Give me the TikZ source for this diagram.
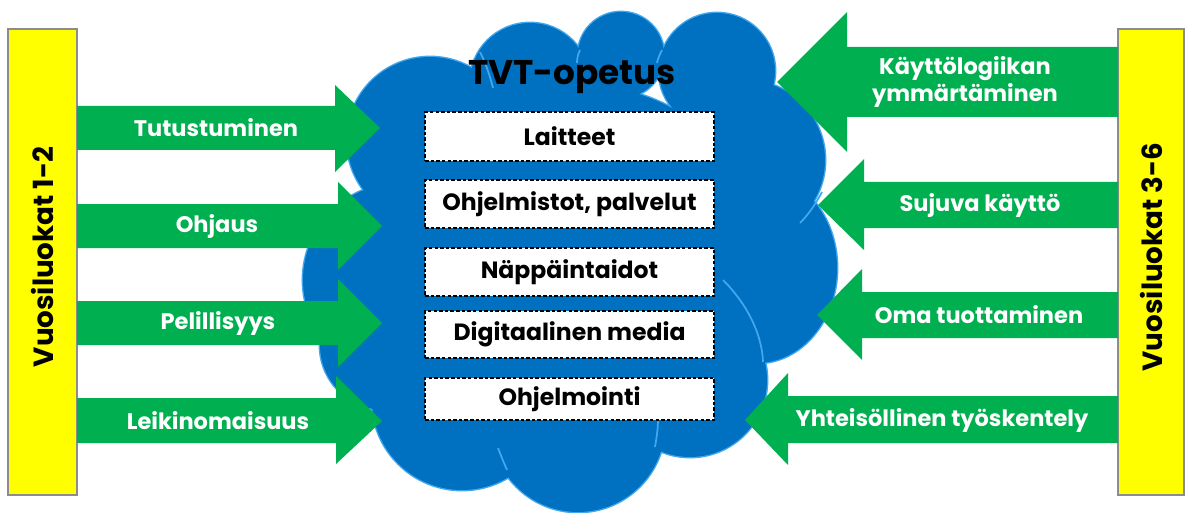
\documentclass[tikz,border=0pt]{standalone}
\usepackage{fontspec}
\setmainfont{Poppins}
\definecolor{arrowgreen}{HTML}{00B050}
\definecolor{baryellow}{HTML}{FFFF00}
\definecolor{bargray}{HTML}{8C8C8C}
\definecolor{cloudblue}{HTML}{0070C0}
\definecolor{cloudline}{HTML}{41A8F0}
\tikzset{
  arrowtext/.style={text=white, align=center, inner sep=0pt,
    font=\bfseries\fontsize{12.8}{15.5}\selectfont},
  topicbox/.style={draw, fill=white, line width=0.8pt,
    dash pattern=on 2pt off 1.2pt, minimum width=5.78cm, inner sep=0pt,
    font=\bfseries\fontsize{13.4}{16}\selectfont},
  yearbar/.style={draw=bargray, fill=baryellow, line width=1pt},
  yeartext/.style={rotate=90, inner sep=0pt,
    font=\bfseries\fontsize{15.8}{18}\selectfont},
  innerarc/.style={cloudline, line width=1pt}
}
\begin{document}
\begin{tikzpicture}[x=0.02cm, y=-0.02cm]
    \useasboundingbox (0,0) rectangle (1185,513);

    % Cloud
    \foreach \cx/\cy/\rx/\ry in {430/140/83/83, 530/83/60/60, 621/55/43/43,
        717/71/58/58, 745/160/80/80, 757/268/80/95, 690/380/77/77,
        578/425/87/87, 462/400/90/90, 400/280/97/97, 385/345/65/65,
        580/270/190/185}
      \draw [cloudline, line width=1.6pt] (\cx,\cy) ellipse [x radius=\rx, y radius=\ry];
    \foreach \cx/\cy/\rx/\ry in {430/140/83/83, 530/83/60/60, 621/55/43/43,
        717/71/58/58, 745/160/80/80, 757/268/80/95, 690/380/77/77,
        578/425/87/87, 462/400/90/90, 400/280/97/97, 385/345/65/65,
        580/270/190/185}
      \fill [cloudblue] (\cx,\cy) ellipse [x radius=\rx, y radius=\ry];

    % Inner cloud lines
    \draw [innerarc] (480,52) .. controls (486,64) and (490,76) .. (493,88);
    \draw [innerarc] (580,50) .. controls (578,54) and (577,58) .. (577,63);
    \draw [innerarc] (662,50) .. controls (660,54) and (658,58) .. (657,63);
    \draw [innerarc] (822,192) .. controls (815,205) and (808,215) .. (800,223);
    \draw [innerarc] (723,280) .. controls (748,305) and (762,335) .. (763,362);
    \draw [innerarc] (655,447) .. controls (657,435) and (658,428) .. (658,420);
    \draw [innerarc] (498,448) .. controls (501,456) and (504,463) .. (507,470);

    % Year bars
    \draw [yearbar] (8,29) rectangle (77,495);
    \draw [yearbar] (1118,29) rectangle (1184,495);
    \node [yeartext] (vl12) at (42,257) {Vuosiluokat 1-2};
    \node [yeartext] (vl36) at (1151,257) {Vuosiluokat 3-6};

    % Left arrows
    \fill [arrowgreen] (77,106) -- (335,106) -- (335,85) -- (380,128)
        -- (335,172) -- (335,150) -- (77,150) -- cycle;
    \fill [arrowgreen] (77,204) -- (338,204) -- (338,182) -- (382,226)
        -- (338,270) -- (338,248) -- (77,248) -- cycle;
    \fill [arrowgreen] (77,301) -- (338,301) -- (338,279) -- (382,323)
        -- (338,367) -- (338,345) -- (77,345) -- cycle;
    \fill [arrowgreen] (77,398) -- (336,398) -- (336,376) -- (382,421)
        -- (336,464) -- (336,443) -- (77,443) -- cycle;

    % Right arrows
    \fill [arrowgreen] (1118,47) -- (847,47) -- (847,12) -- (777,82)
        -- (847,152) -- (847,117) -- (1118,117) -- cycle;
    \fill [arrowgreen] (1118,182) -- (864,182) -- (864,159) -- (818,205)
        -- (864,250) -- (864,228) -- (1118,228) -- cycle;
    \fill [arrowgreen] (1118,292) -- (862,292) -- (862,269) -- (817,315)
        -- (862,360) -- (862,338) -- (1118,338) -- cycle;
    \fill [arrowgreen] (1118,396) -- (788,396) -- (788,373) -- (745,420)
        -- (788,465) -- (788,443) -- (1118,443) -- cycle;

    % Arrow labels
    \node [arrowtext] (tutustuminen) at (216,128) {Tutustuminen};
    \node [arrowtext] (ohjaus) at (217,226) {Ohjaus};
    \node [arrowtext] (pelillisyys) at (218,323) {Pelillisyys};
    \node [arrowtext] (leikinomaisuus) at (218,421) {Leikinomaisuus};
    \node [arrowtext] (kayttologiikka) at (965,82) {Käyttölogiikan\\ymmärtäminen};
    \node [arrowtext] (sujuva) at (980,205) {Sujuva käyttö};
    \node [arrowtext] (tuottaminen) at (979,315) {Oma tuottaminen};
    \node [arrowtext] (yhteisollinen) at (942,420) {Yhteisöllinen työskentely};

    % Title and topics
    \node [font=\bfseries\fontsize{19.5}{24}\selectfont] (tvt) at (572,77) {TVT-opetus};
    \node [topicbox, minimum height=0.98cm] (laitteet) at (569.5,136.5) {Laitteet};
    \node [topicbox, minimum height=0.96cm] (ohjelmistot) at (569.5,204) {Ohjelmistot, palvelut};
    \node [topicbox, minimum height=0.96cm] (nappain) at (569.5,272) {Näppäintaidot};
    \node [topicbox, minimum height=0.94cm] (media) at (569.5,334.5) {Digitaalinen media};
    \node [topicbox, minimum height=0.84cm] (ohjelmointi) at (569.5,399) {Ohjelmointi};
\end{tikzpicture}
\end{document}
